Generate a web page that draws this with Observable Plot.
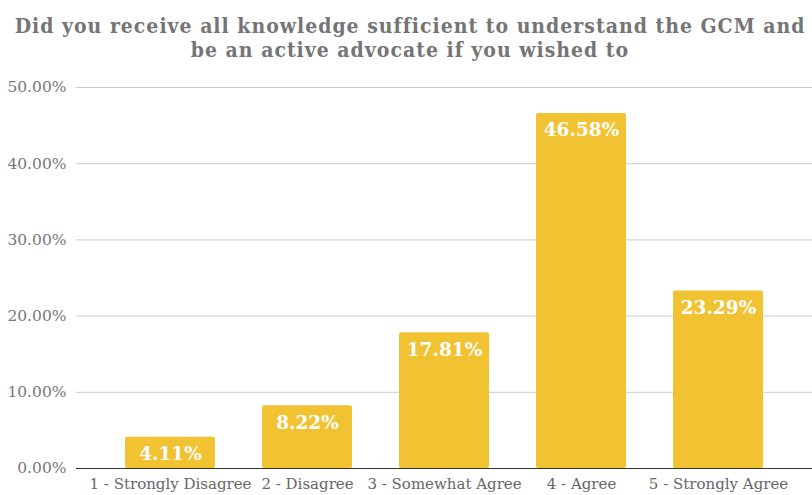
<!DOCTYPE html>
<html>
<head>
<meta charset="utf-8">
<script src="https://cdn.jsdelivr.net/npm/d3@7"></script>
<script src="https://cdn.jsdelivr.net/npm/@observablehq/plot@0.6"></script>
<style>
  html, body { margin: 0; padding: 0; background: #fff; }
  #wrap { width: 812px; height: 495px; overflow: hidden; }
  #title {
    box-sizing: border-box; height: 70px; padding-top: 14px; padding-left: 8px;
    font-family: "DejaVu Serif Condensed", "DejaVu Serif", serif; font-stretch: condensed; font-weight: bold;
    font-size: 21px; letter-spacing: 1px; color: #757575; text-align: center;
    white-space: nowrap;
  }
  #title div { height: 24px; line-height: 24.5px; }
  svg { display: block; }
</style>
</head>
<body>
<div id="wrap">
  <div id="title"><div>Did you receive all knowledge sufficient to understand the GCM and</div><div>be an active advocate if you wished to</div></div>
  <div id="chart"></div>
</div>
<script>
const categories = ["1 - Strongly Disagree", "2 - Disagree", "3 - Somewhat Agree", "4 - Agree", "5 - Strongly Agree"];
const values = [4.11, 8.22, 17.81, 46.58, 23.29];
const yTicks = [0, 10, 20, 30, 40, 50];

const data = categories.map((c, i) => ({category: c, value: values[i]}));
const fmt = v => v.toFixed(2) + "%";

const chart = Plot.plot({
  width: 812,
  height: 425,
  marginLeft: 76,
  marginRight: 0,
  marginTop: 17,
  marginBottom: 27,
  style: {fontFamily: "'DejaVu Serif', serif", fontSize: "15px", color: "#666", background: "#fff"},
  x: {domain: categories, padding: 0.34, label: null, tickSize: 0, tickPadding: 11},
  y: {domain: [0, 50], ticks: yTicks, tickFormat: fmt, label: null, tickSize: 0, tickPadding: 10},
  marks: [
    Plot.gridY(yTicks, {stroke: "#cccccc", strokeOpacity: 1}),
    Plot.axisY(yTicks, {tickFormat: fmt, tickSize: 0, tickPadding: 10, fill: "#777", fontSize: 15.5, label: null}),
    Plot.axisX({tickSize: 0, tickPadding: 10, fill: "#666", fontSize: 15, label: null}),
    Plot.barY(data, {x: "category", y: "value", fill: "#F1C232", rx: 2}),
    Plot.ruleY([0], {stroke: "#333", strokeWidth: 1.2}),
    Plot.text(data, {x: "category", y: "value", text: d => fmt(d.value), fill: "#fff", fontWeight: "bold", fontSize: 18.5, dy: 17})
  ]
});
document.getElementById("chart").appendChild(chart);
</script>
</body>
</html>
